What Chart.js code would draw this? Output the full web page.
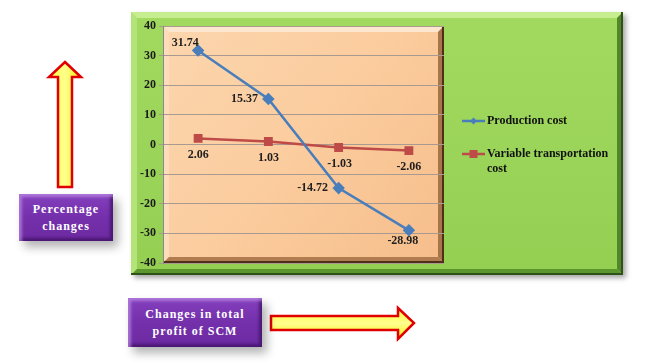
<!DOCTYPE html>
<html>
<head>
<meta charset="utf-8">
<script src="https://cdn.jsdelivr.net/npm/chart.js@4/dist/chart.umd.min.js"></script>
<style>
  body { margin: 0; background: #fff; width: 645px; height: 363px; position: relative; overflow: hidden; font-family: "Liberation Serif", "DejaVu Serif", serif; }
  #chartBox { position: absolute; left: 131px; top: 12px; width: 492px; height: 263px; box-shadow: 3px 3px 5px rgba(0,0,0,0.35); }
  .tag { position: absolute; color: #fff; font-weight: bold; font-size: 12px; letter-spacing: 1px; line-height: 17px; text-align: center;
         display: flex; align-items: center; justify-content: center;
         background: linear-gradient(180deg, #8440bd 0%, #7430ab 50%, #6c2aa0 100%);
         box-shadow: inset 3px 3px 3px rgba(190,140,230,0.7), inset -3px -3px 3px rgba(60,15,95,0.7), 5px 6px 9px rgba(0,0,0,0.3); }
  svg { position: absolute; left: 0; top: 0; }
</style>
</head>
<body>
<svg width="645" height="363">
  <defs>
    <linearGradient id="yel" x1="0" y1="0" x2="1" y2="0">
      <stop offset="0" stop-color="#ffff30"/>
      <stop offset="0.5" stop-color="#ffff90"/>
      <stop offset="1" stop-color="#f6f000"/>
    </linearGradient>
    <linearGradient id="yelH" x1="0" y1="0" x2="0" y2="1">
      <stop offset="0" stop-color="#ffff30"/>
      <stop offset="0.5" stop-color="#ffff90"/>
      <stop offset="1" stop-color="#f6f000"/>
    </linearGradient>
  </defs>
  <polygon points="65,62 81,77 72,77 72,187 58,187 58,77 49,77" fill="url(#yel)" stroke="#e00000" stroke-width="2.5"/>
  <polygon points="271,316 398,316 398,308 414,323 398,339 398,330 271,330" fill="url(#yelH)" stroke="#e00000" stroke-width="2.5"/>
</svg>
<div class="tag" style="left:19px; top:194px; width:94px; height:47px;">Percentage<br>changes</div>
<div class="tag" style="left:128px; top:298px; width:134px; height:49px;">Changes in total<br>profit of SCM</div>
<div id="chartBox"><canvas id="c" width="492" height="263"></canvas></div>
<script>
const categories = ['1', '2', '3', '4'];
const productionCost = [31.74, 15.37, -14.72, -28.98];
const transportCost = [2.06, 1.03, -1.03, -2.06];
const yTicks = [-40, -30, -20, -10, 0, 10, 20, 30, 40];

// label offsets relative to each point (style only)
const prodLabelOffsets = [[-13, -8], [-24, 0], [-26, 0], [-6, 11]];
const transLabelOffsets = [[0, 17], [0, 16], [1, 16], [0, 16]];

const serif = '"Liberation Serif", "DejaVu Serif", serif';

function bevel(ctx, x, y, w, h, b, base, light, lightSide, darkSide, dark) {
    ctx.fillStyle = base;
    ctx.fillRect(x, y, w, h);
    // top
    ctx.fillStyle = light;
    ctx.beginPath();
    ctx.moveTo(x, y); ctx.lineTo(x + w, y); ctx.lineTo(x + w - b, y + b); ctx.lineTo(x + b, y + b);
    ctx.fill();
    // left
    ctx.fillStyle = lightSide;
    ctx.beginPath();
    ctx.moveTo(x, y); ctx.lineTo(x + b, y + b); ctx.lineTo(x + b, y + h - b); ctx.lineTo(x, y + h);
    ctx.fill();
    // right
    ctx.fillStyle = darkSide;
    ctx.beginPath();
    ctx.moveTo(x + w, y); ctx.lineTo(x + w, y + h); ctx.lineTo(x + w - b, y + h - b); ctx.lineTo(x + w - b, y + b);
    ctx.fill();
    // bottom
    ctx.fillStyle = dark;
    ctx.beginPath();
    ctx.moveTo(x, y + h); ctx.lineTo(x + w, y + h); ctx.lineTo(x + w - b, y + h - b); ctx.lineTo(x + b, y + h - b);
    ctx.fill();
}

const backgroundPlugin = {
    id: 'bg',
    beforeDraw(chart) {
        const ctx = chart.ctx;
        const a = chart.chartArea;
        ctx.save();
        const g = ctx.createLinearGradient(0, 0, 0, chart.height);
        g.addColorStop(0, '#a2da60');
        g.addColorStop(1, '#94cf52');
        bevel(ctx, 0, 0, chart.width, chart.height, 6, g, '#c6ee90', '#b4e37a', '#52862a', '#5c962e');
        ctx.fillStyle = '#2f5218';
        ctx.fillRect(chart.width - 2, 0, 2, chart.height);
        ctx.fillRect(0, chart.height - 2, chart.width, 2);
        const p = ctx.createLinearGradient(a.left, a.top, a.right, a.bottom);
        p.addColorStop(0, '#fcd6ae');
        p.addColorStop(0.5, '#fbcc9e');
        p.addColorStop(1, '#f6bd8a');
        bevel(ctx, a.left, a.top, a.right - a.left, a.bottom - a.top, 6, p, '#fde7cf', '#fcdcbc', '#a8744a', '#b07c50');
        ctx.fillStyle = '#4e3018';
        ctx.fillRect(a.right - 2, a.top, 2, a.bottom - a.top);
        ctx.fillRect(a.left, a.bottom - 2, a.right - a.left, 2);
        ctx.restore();
    }
};

const labelPlugin = {
    id: 'pointLabels',
    afterDatasetsDraw(chart) {
        const ctx = chart.ctx;
        ctx.save();
        ctx.font = 'bold 12px ' + serif;
        ctx.fillStyle = '#1e1e1e';
        ctx.textAlign = 'center';
        ctx.textBaseline = 'middle';
        const offsets = [prodLabelOffsets, transLabelOffsets];
        chart.data.datasets.forEach((ds, i) => {
            chart.getDatasetMeta(i).data.forEach((pt, j) => {
                const o = offsets[i][j];
                ctx.fillText(ds.data[j].toFixed(2), pt.x + o[0], pt.y + o[1]);
            });
        });
        ctx.restore();
    }
};

const legendPlugin = {
    id: 'sideLegend',
    afterDraw(chart) {
        const ctx = chart.ctx;
        ctx.save();
        ctx.font = 'bold 12px ' + serif;
        ctx.textBaseline = 'middle';
        ctx.fillStyle = '#111';
        const x0 = 331, x1 = 354, tx = 356, maxW = 134;
        let y = 109;
        chart.data.datasets.forEach((ds, i) => {
            ctx.strokeStyle = ds.borderColor;
            ctx.lineWidth = 2.5;
            ctx.beginPath(); ctx.moveTo(x0, y); ctx.lineTo(x1, y); ctx.stroke();
            ctx.fillStyle = ds.pointBackgroundColor;
            const cx = (x0 + x1) / 2, r = i === 0 ? 3.5 : 4;
            ctx.beginPath();
            if (i === 0) {
                ctx.moveTo(cx, y - r); ctx.lineTo(cx + r, y); ctx.lineTo(cx, y + r); ctx.lineTo(cx - r, y);
            } else {
                ctx.rect(cx - r, y - r, 2 * r, 2 * r);
            }
            ctx.fill();
            // wrap text
            const words = ds.label.split(' ');
            const lines = [];
            let line = '';
            words.forEach(w => {
                const t = line ? line + ' ' + w : w;
                if (ctx.measureText(t).width > maxW && line) { lines.push(line); line = w; } else { line = t; }
            });
            lines.push(line);
            ctx.fillStyle = '#111';
            lines.forEach((l, k) => ctx.fillText(l, tx, y + k * 15));
            y += 33;
        });
        ctx.restore();
    }
};

new Chart(document.getElementById('c'), {
    type: 'line',
    data: {
        labels: categories,
        datasets: [
            {
                label: 'Production cost',
                data: productionCost,
                borderColor: '#4a7ebb',
                borderWidth: 2.5,
                pointStyle: 'rectRot',
                pointRadius: 4.5,
                pointBackgroundColor: '#4a7ebb',
                pointBorderColor: '#4a7ebb',
                tension: 0
            },
            {
                label: 'Variable transportation cost',
                data: transportCost,
                borderColor: '#be4b48',
                borderWidth: 2.5,
                pointStyle: 'rect',
                pointRadius: 4.5,
                pointBackgroundColor: '#be4b48',
                pointBorderColor: '#be4b48',
                tension: 0
            }
        ]
    },
    options: {
        responsive: false,
        animation: false,
        layout: { padding: { left: 0, top: 14, right: 179, bottom: 12 } },
        plugins: {
            legend: { display: false },
            tooltip: { enabled: false }
        },
        scales: {
            x: {
                display: false,
                offset: true
            },
            y: {
                min: -40,
                max: 40,
                afterFit(scale) { scale.width = 32; },
                afterBuildTicks(scale) { scale.ticks = yTicks.map(v => ({ value: v })); },
                grid: { color: '#a89a90', lineWidth: 1, tickLength: 4 },
                border: { display: true, color: '#8a8a8a' },
                ticks: {
                    padding: 3,
                    color: '#1a1a1a',
                    font: { family: serif, size: 12, weight: 'bold' }
                }
            }
        }
    },
    plugins: [backgroundPlugin, labelPlugin, legendPlugin]
});
</script>
</body>
</html>
